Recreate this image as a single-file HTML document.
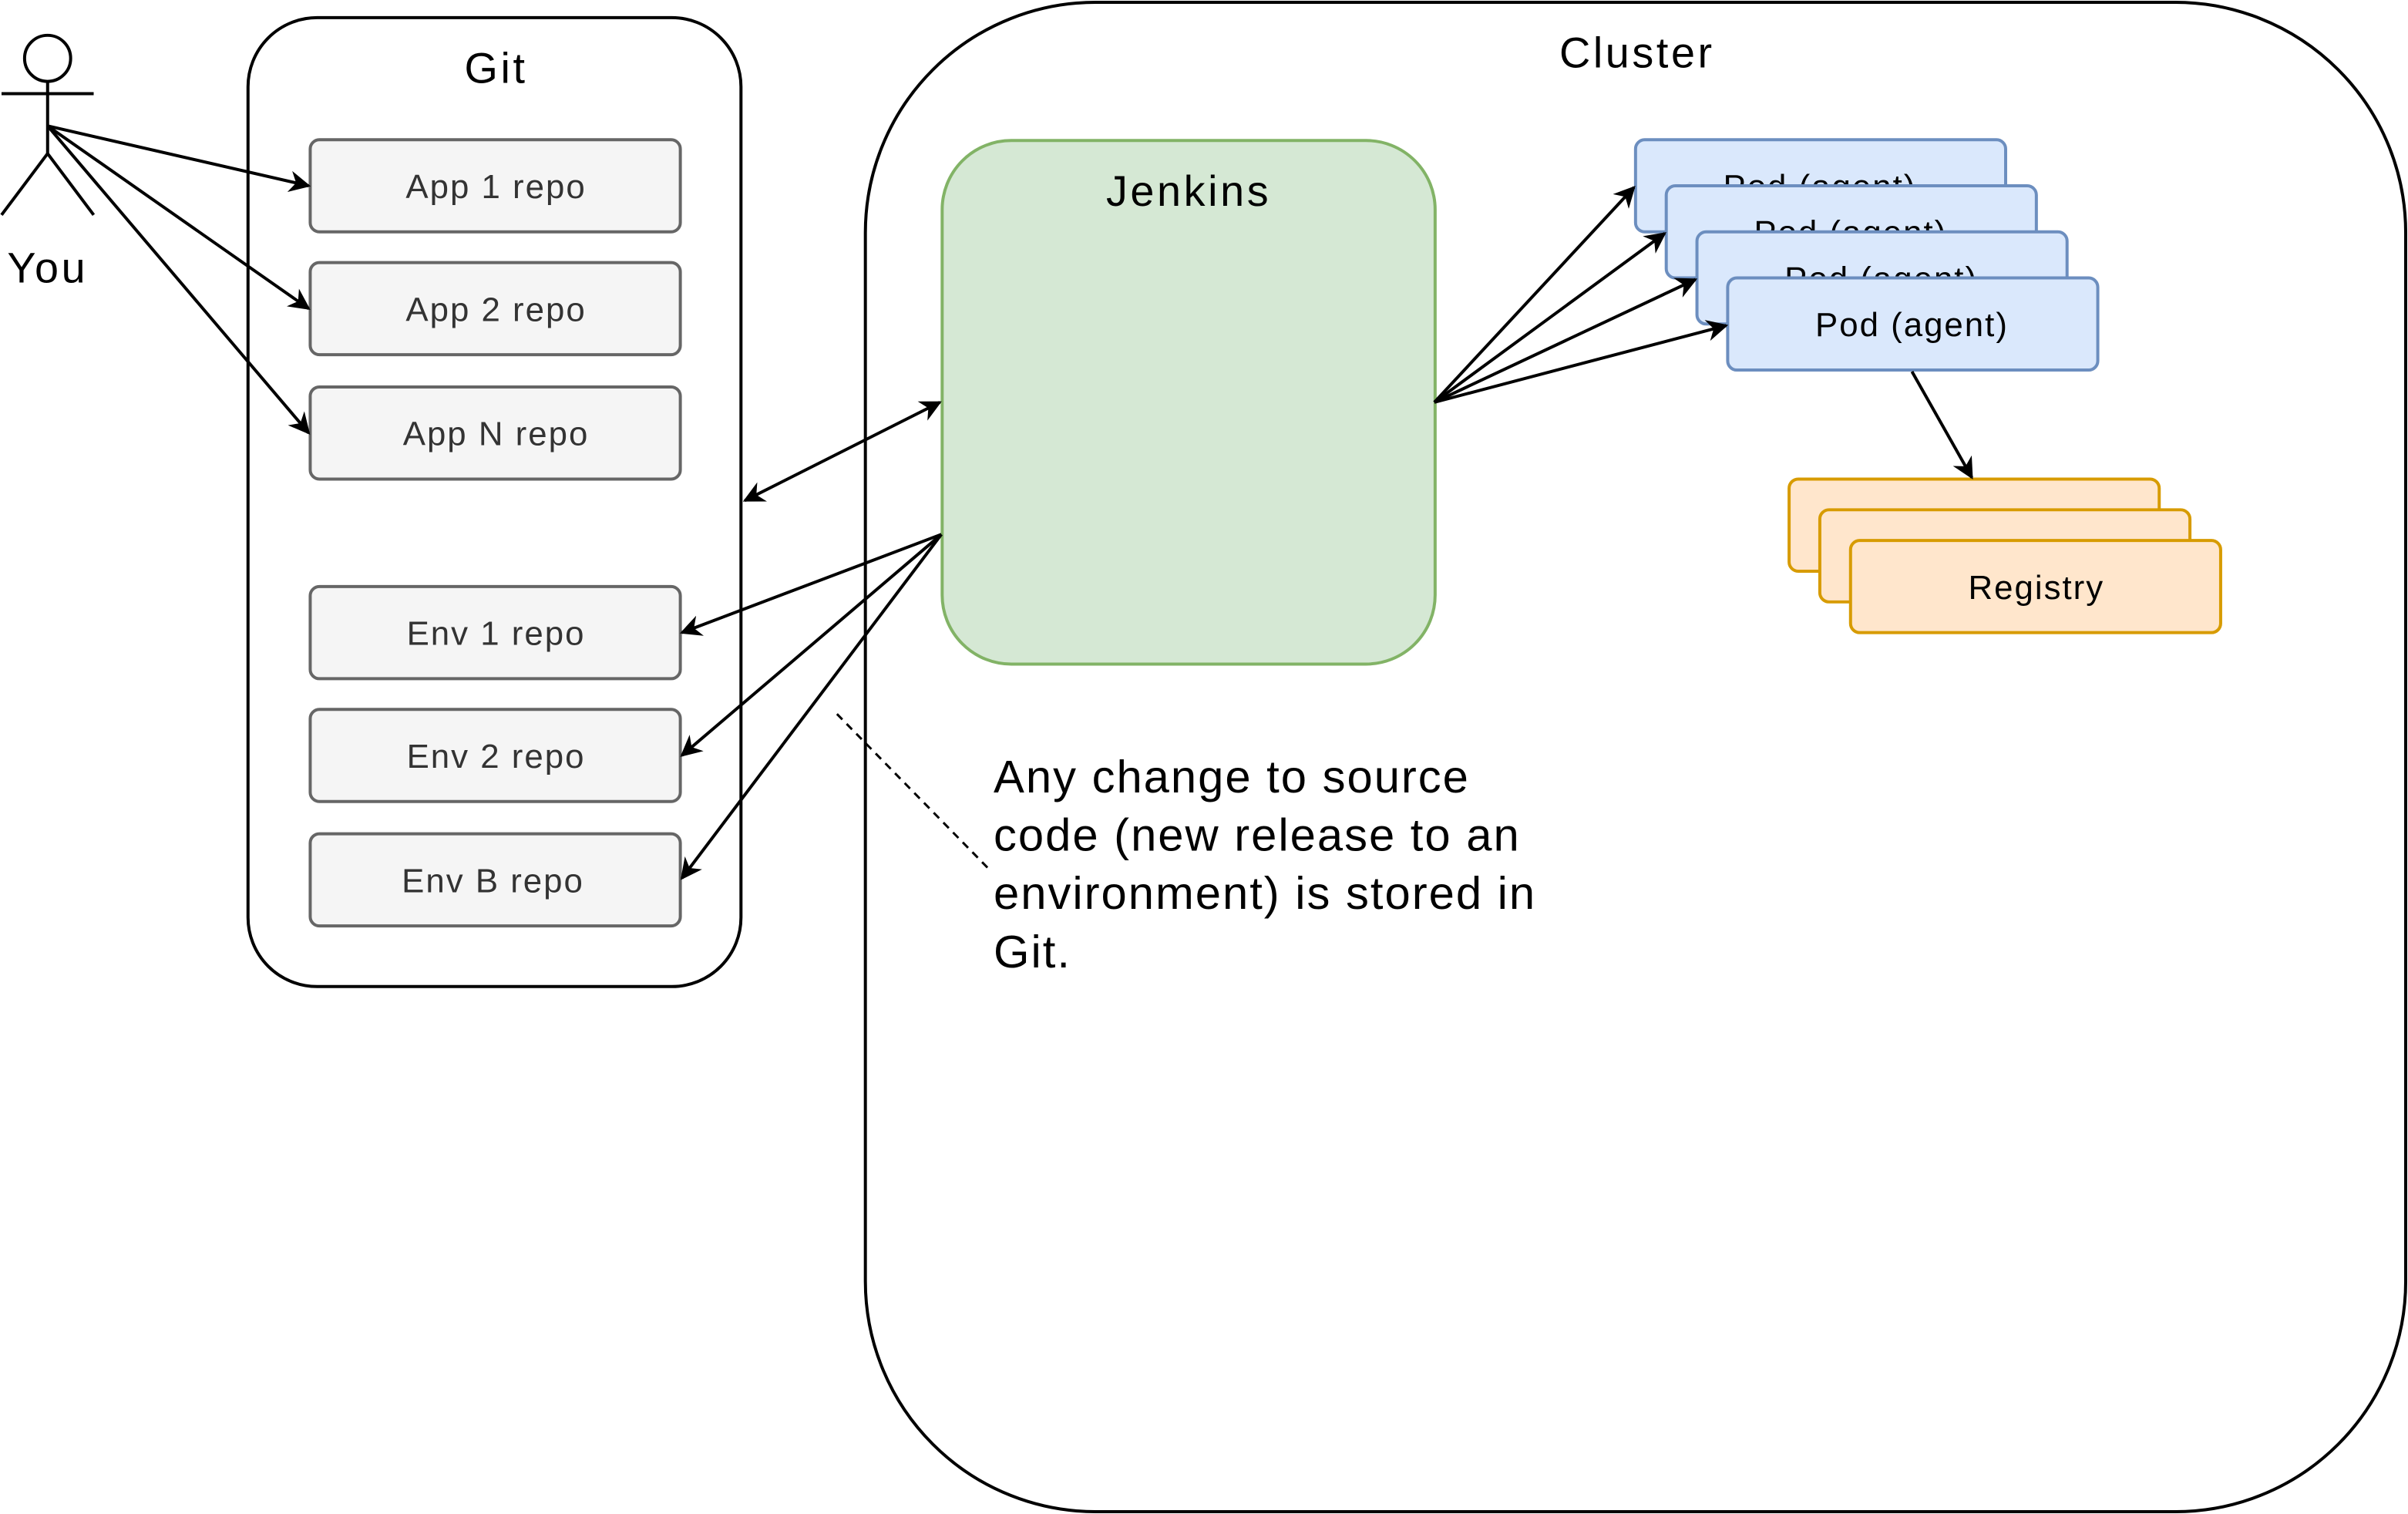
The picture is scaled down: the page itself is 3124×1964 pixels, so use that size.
<!DOCTYPE html>
<html><head><meta charset="utf-8"><style>
html,body{margin:0;padding:0;background:#fff;}
svg{display:block;}
text{font-family:"Liberation Sans",Arial,sans-serif;}
.t{letter-spacing:1.8px}
.s{letter-spacing:1px}
</style></head><body>
<svg width="3124" height="1964" viewBox="0 0 1568 986" preserveAspectRatio="none" xmlns="http://www.w3.org/2000/svg">
<defs>
<marker id="a" viewBox="0 0 10 10" refX="9" refY="5" markerWidth="14" markerHeight="14" markerUnits="userSpaceOnUse" orient="auto-start-reverse">
<path d="M0,0 L10,5 L0,10 L3,5 z" fill="#000"/></marker>
</defs>
<rect width="1568" height="986" fill="#fff"/>
<g stroke="#000" stroke-width="2" fill="none">
<circle cx="31" cy="38" r="15" fill="#fff"/>
<line x1="31" y1="53" x2="31" y2="100"/>
<line x1="1" y1="61" x2="61" y2="61"/>
<line x1="31" y1="100" x2="1" y2="140"/>
<line x1="31" y1="100" x2="61" y2="140"/>
</g>
<text class="t" x="31" y="184" font-size="28" text-anchor="middle">You</text>
<rect x="161.5" y="11.5" width="321" height="631" rx="45" fill="#fff" stroke="#000" stroke-width="2"/>
<text class="t" x="323" y="54" font-size="28" text-anchor="middle">Git</text>
<g fill="#f5f5f5" stroke="#666" stroke-width="2">
<rect x="202" y="91" width="241" height="60" rx="6"/>
<rect x="202" y="171" width="241" height="60" rx="6"/>
<rect x="202" y="252" width="241" height="60" rx="6"/>
<rect x="202" y="382" width="241" height="60" rx="6"/>
<rect x="202" y="462" width="241" height="60" rx="6"/>
<rect x="202" y="543" width="241" height="60" rx="6"/>
</g>
<g font-size="22" fill="#333" text-anchor="middle" class="s">
<text x="323" y="129">App 1 repo</text>
<text x="323" y="209">App 2 repo</text>
<text x="323" y="290">App N repo</text>
<text x="323" y="420">Env 1 repo</text>
<text x="323" y="500">Env 2 repo</text>
<text x="321" y="581">Env B repo</text>
</g>
<rect x="563.5" y="1.5" width="1003" height="983" rx="150" fill="#fff" stroke="#000" stroke-width="2"/>
<text class="t" x="1066" y="44" font-size="28" text-anchor="middle">Cluster</text>
<rect x="613.5" y="91.5" width="321" height="341" rx="45" fill="#d5e8d4" stroke="#82b366" stroke-width="2"/>
<text class="t" x="774" y="134" font-size="28" text-anchor="middle">Jenkins</text>
<g font-size="22" text-anchor="middle" class="s">
<rect x="1065" y="91" width="241" height="60" rx="6" fill="#dae8fc" stroke="#6c8ebf" stroke-width="2"/>
<text x="1185" y="129">Pod (agent)</text>
<rect x="1085" y="121" width="241" height="60" rx="6" fill="#dae8fc" stroke="#6c8ebf" stroke-width="2"/>
<text x="1205" y="159">Pod (agent)</text>
<rect x="1105" y="151" width="241" height="60" rx="6" fill="#dae8fc" stroke="#6c8ebf" stroke-width="2"/>
<text x="1225" y="189">Pod (agent)</text>
<rect x="1125" y="181" width="241" height="60" rx="6" fill="#dae8fc" stroke="#6c8ebf" stroke-width="2"/>
<text x="1245" y="219">Pod (agent)</text>
<rect x="1165" y="312" width="241" height="60" rx="6" fill="#ffe6cc" stroke="#d79b00" stroke-width="2"/>
<rect x="1185" y="332" width="241" height="60" rx="6" fill="#ffe6cc" stroke="#d79b00" stroke-width="2"/>
<rect x="1205" y="352" width="241" height="60" rx="6" fill="#ffe6cc" stroke="#d79b00" stroke-width="2"/>
<text x="1326" y="390">Registry</text>
</g>
<g stroke="#000" stroke-width="2" fill="none" marker-end="url(#a)">
<line x1="31" y1="82" x2="201" y2="121"/>
<line x1="31" y1="82" x2="201" y2="201"/>
<line x1="31" y1="82" x2="201" y2="282"/>
<line x1="485" y1="326" x2="612" y2="262" marker-start="url(#a)"/>
<line x1="613" y1="348" x2="444" y2="412"/>
<line x1="613" y1="348" x2="444" y2="492"/>
<line x1="613" y1="348" x2="444" y2="572"/>
<line x1="934" y1="262" x2="1064" y2="122"/>
<line x1="934" y1="262" x2="1084" y2="152"/>
<line x1="934" y1="262" x2="1104" y2="182"/>
<line x1="934" y1="262" x2="1124" y2="212"/>
<line x1="1245" y1="242" x2="1284" y2="311"/>
</g>
<line x1="545" y1="465" x2="643" y2="565" stroke="#000" stroke-width="1.5" stroke-dasharray="5,4"/>
<g font-size="30" class="s">
<text x="647" y="516">Any change to source</text>
<text x="647" y="554">code (new release to an</text>
<text x="647" y="592">environment) is stored in</text>
<text x="647" y="630">Git.</text>
</g>
</svg>
</body></html>
